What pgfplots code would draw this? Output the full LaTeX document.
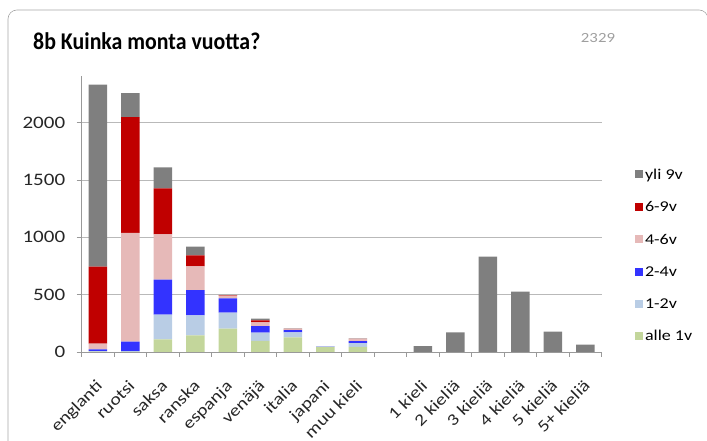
\documentclass[border=0pt]{standalone}
\usepackage{pgfplots}
\pgfplotsset{compat=1.18}
\usepackage{fontspec}
\setmainfont[FakeStretch=1.2]{Carlito}
\newfontfamily\titlefont[FakeStretch=0.91]{Carlito}
\definecolor{cgray}{HTML}{7F7F7F}
\definecolor{cred}{HTML}{C00000}
\definecolor{cpink}{HTML}{E6B9B8}
\definecolor{cblue}{HTML}{3333FF}
\definecolor{clblue}{HTML}{B9CDE5}
\definecolor{cgreen}{HTML}{C3D69B}
\begin{document}
\begin{tikzpicture}[x=1pt,y=1pt]
\path[use as bounding box] (0,0) rectangle (707,441);
\draw[gray!70, line width=0.6pt, rounded corners=9pt] (8,-30) -- (8,431) -- (708,431) -- (708,-30);
\node[anchor=base west, inner sep=0pt, font=\titlefont\bfseries\fontsize{24}{28}\selectfont] at (33,391.5) {8b Kuinka monta vuotta?};
\node[anchor=base, text=gray!75, font=\fontsize{14}{16}\selectfont] at (598,398) {2329};
\begin{axis}[
  at={(81.7pt,89pt)}, anchor=south west,
  scale only axis, width=520pt, height=275.5pt,
  xmin=-0.5, xmax=15.5, ymin=0, ymax=2400,
  enlarge x limits=false, enlarge y limits=false,
  ybar stacked, bar width=18.5pt,
  axis x line*=bottom, axis y line*=left,
  axis line style={draw=gray!80, line width=0.7pt},
  ytick={0,500,...,2000},
  ymajorgrids, grid style={gray!55, line width=0.6pt},
  xtick={-0.5,0.5,...,15.5},
  xticklabels={englanti,ruotsi,saksa,ranska,espanja,venäjä,italia,japani,muu kieli,{},1 kieli,2 kieliä,3 kieliä,4 kieliä,5 kieliä,5+ kieliä},
  x tick label as interval,
  tick align=outside, major tick length=5pt,
  tick style={draw=gray!80, line width=0.6pt},
  /pgf/number format/assume math mode=true,
  /pgf/number format/1000 sep={},
  y tick label style={font=\fontsize{17.5}{19}\selectfont, text=black!85, xshift=-8pt},
  x tick label style={rotate=45, anchor=north east, font=\fontsize{16.5}{18}\selectfont, text=black!85, yshift=-10pt, xshift=-14pt},
  legend image code/.code={\fill[#1] (0pt,-3.5pt) rectangle (8pt,4.5pt);},
  reverse legend,
  legend cell align=left,
  legend style={at={(1.058,0.68)}, anchor=north west, draw=none, fill=none,
    row sep=16.8pt, font=\fontsize{15}{17}\selectfont,
    /tikz/every even column/.append style={column sep=1pt}},
]
\addplot[fill=cgreen, draw=none] coordinates {(0,3) (1,2) (2,110) (3,145) (4,203) (5,96) (6,127) (7,45) (8,44) (10,0) (11,0) (12,0) (13,0) (14,0) (15,0)};
\addplot[fill=clblue, draw=none] coordinates {(0,5) (1,5) (2,215) (3,174) (4,139) (5,72) (6,44) (7,2) (8,34) (10,0) (11,0) (12,0) (13,0) (14,0) (15,0)};
\addplot[fill=cblue, draw=none] coordinates {(0,15) (1,83) (2,305) (3,221) (4,125) (5,58) (6,20) (7,2) (8,16) (10,0) (11,0) (12,0) (13,0) (14,0) (15,0)};
\addplot[fill=cpink, draw=none] coordinates {(0,50) (1,947) (2,394) (3,206) (4,25) (5,32) (6,5) (7,0) (8,18) (10,0) (11,0) (12,0) (13,0) (14,0) (15,0)};
\addplot[fill=cred, draw=none] coordinates {(0,670) (1,1010) (2,401) (3,95) (4,3) (5,17) (6,5) (7,0) (8,2) (10,0) (11,0) (12,0) (13,0) (14,0) (15,0)};
\addplot[fill=cgray, draw=none] coordinates {(0,1586) (1,209) (2,183) (3,76) (4,3) (5,15) (6,2) (7,0) (8,2) (10,52) (11,171) (12,830) (13,525) (14,177) (15,64)};
\legend{alle 1v,1-2v,2-4v,4-6v,6-9v,yli 9v}
\end{axis}
\end{tikzpicture}
\end{document}
